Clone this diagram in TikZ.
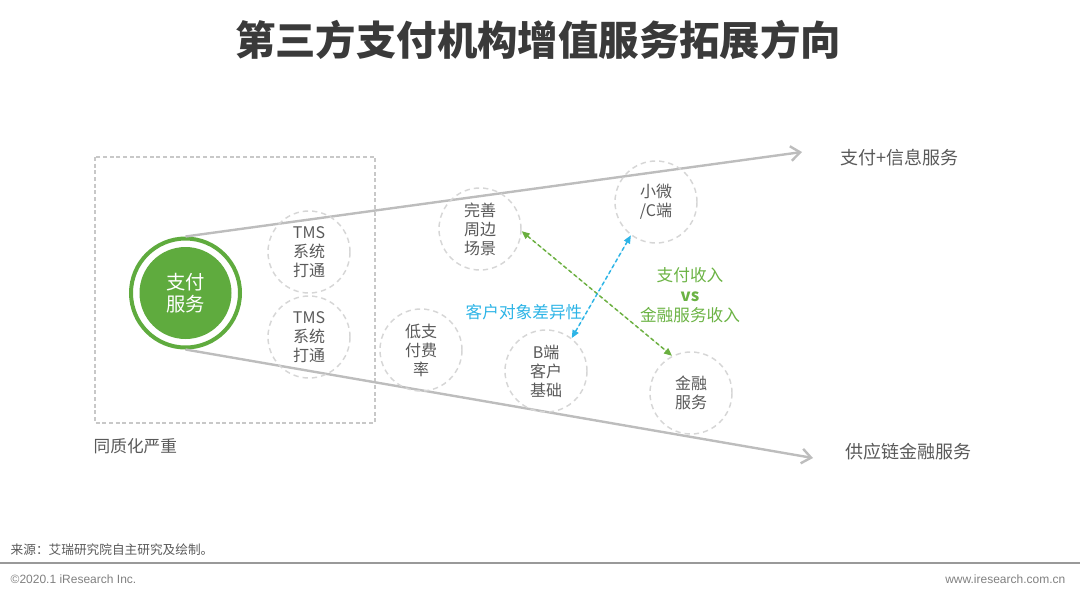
\documentclass[tikz,border=0pt]{standalone}
\usepackage{fontspec}
\newfontfamily\cjk{Noto Sans CJK SC}
\newfontfamily\lsans{Liberation Sans}
\usetikzlibrary{arrows.meta}
\definecolor{txtgray}{HTML}{595959}
\definecolor{titlegray}{HTML}{3A3A3A}
\definecolor{linegray}{HTML}{BDBDBD}
\definecolor{circgray}{HTML}{D6D6D6}
\definecolor{boxgray}{HTML}{C8C8C8}
\definecolor{paygreen}{HTML}{5FAB3E}
\definecolor{txtgreen}{HTML}{6BB344}
\definecolor{arrgreen}{HTML}{6AAF3F}
\definecolor{arrblue}{HTML}{2DB4E6}
\tikzset{
  dcirc/.style={circle, draw=circgray, line width=1.1pt, dash pattern=on 4pt off 3pt,
    minimum size=61.5pt, inner sep=0pt, align=center, text=txtgray,
    font=\cjk\fontsize{12}{14.2}\selectfont},
  mainline/.style={draw=linegray, line width=1.8pt, -{Straight Barb[length=7pt,width=11pt]}},
  endlabel/.style={anchor=west, text=txtgray, font=\cjk\fontsize{13.5}{16}\selectfont},
  dashar/.style={line width=1.1pt, dash pattern=on 3pt off 2pt,
    {Triangle[length=6pt,width=5pt]}-{Triangle[length=6pt,width=5pt]}},
}
\begin{document}
\begin{tikzpicture}[x=0.75pt,y=-0.75pt]
\useasboundingbox (0,0) rectangle (1080,594);
% title
\node[font=\cjk\bfseries\fontsize{30.3}{34}\selectfont, text=titlegray] (title) at (538,40) {第三方支付机构增值服务拓展方向};
% dashed box
\draw[draw=boxgray, line width=0.8pt, dash pattern=on 3pt off 2pt] (95,157) rectangle (375,423);
\node[anchor=west, text=txtgray, font=\cjk\fontsize{12.5}{15}\selectfont] (homo) at (89,446) {同质化严重};
% main circle
\node[circle, fill=paygreen, minimum size=69pt, inner sep=0pt, align=center, text=white,
  font=\cjk\fontsize{14.5}{16.5}\selectfont] (pay) at (185.5,293) {支付\\服务};
\node[circle, draw=paygreen, line width=3pt, minimum size=81.75pt, inner sep=0pt] (ring) at (185.5,293) {};
% main lines
\node[endlabel] (upl) at (836,158) {支付+信息服务};
\node[endlabel] (lol) at (841,452) {供应链金融服务};
\coordinate (uptip) at (802,152);
\coordinate (lotip) at (813,458);
\draw[mainline] (ring.north) -- (uptip);
\draw[mainline] (ring.south) -- (lotip);
% dashed circles
\node[dcirc] (tms1) at (309,252) {TMS\\系统\\打通};
\node[dcirc] (tms2) at (309,337) {TMS\\系统\\打通};
\node[dcirc] (ws) at (480,229) {完善\\周边\\场景};
\node[dcirc] (xw) at (656,202) {小微\\/C端};
\node[dcirc] (dz) at (421,350) {低支\\付费\\率};
\node[dcirc] (bd) at (546,371) {B端\\客户\\基础};
\node[dcirc] (jr) at (691,393) {金融\\服务};
% dashed arrows
\draw[dashar, draw=arrgreen, fill=arrgreen] (ws.-3) -- (jr.117);
\draw[dashar, draw=arrblue, fill=arrblue] (bd.52) -- (xw.233);
% labels
\node[text=arrblue, font=\cjk\fontsize{12.5}{15}\selectfont] (diff) at (524,312) {客户对象差异性};
\node[text=txtgreen, align=center, font=\cjk\fontsize{12.5}{15}\selectfont] (rev) at (690,295) {支付收入\\\textbf{vs}\\金融服务收入};
% footer
\node[anchor=west, text=txtgray, font=\cjk\fontsize{9.5}{11}\selectfont] (src) at (6,550) {来源：艾瑞研究院自主研究及绘制。};
\draw[draw=gray!80, line width=1.5pt] (0,563) -- (1080,563);
\node[anchor=west, text=gray, font=\lsans\fontsize{9}{11}\selectfont] (copy) at (6,579) {©2020.1 iResearch Inc.};
\node[anchor=east, text=gray, font=\lsans\fontsize{9}{11}\selectfont] (www) at (1070,579) {www.iresearch.com.cn};
\end{tikzpicture}
\end{document}
